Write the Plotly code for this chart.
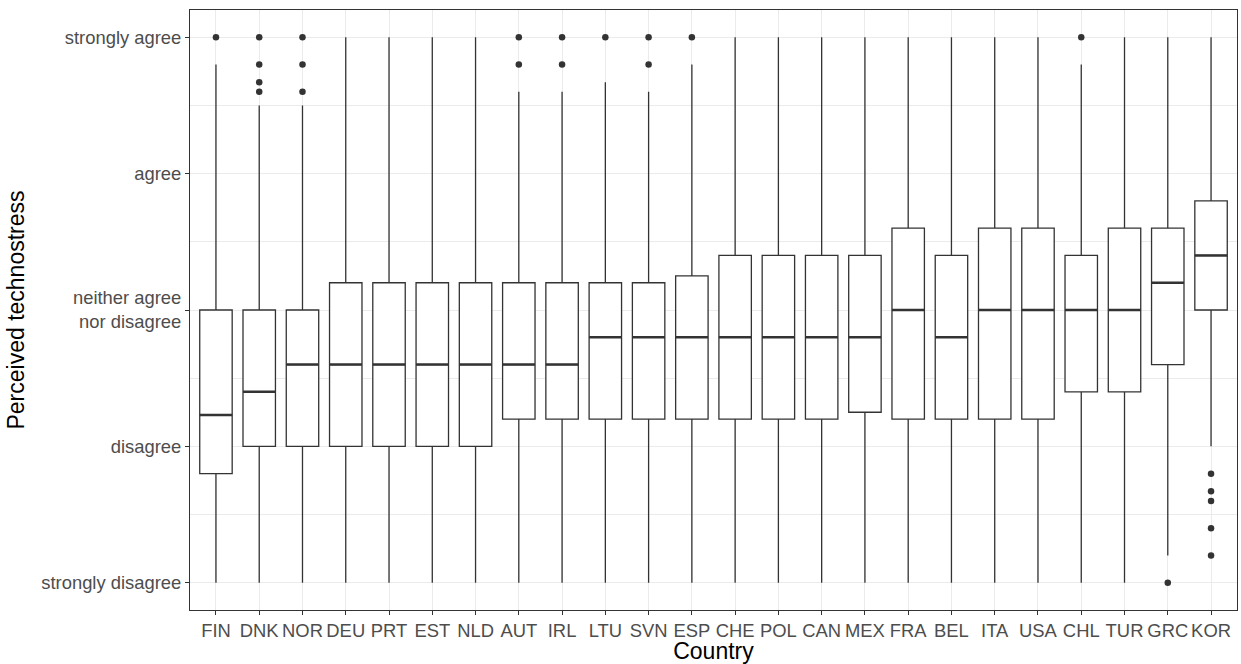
import plotly.graph_objects as go

countries = ["FIN", "DNK", "NOR", "DEU", "PRT", "EST", "NLD", "AUT", "IRL", "LTU", "SVN", "ESP",
             "CHE", "POL", "CAN", "MEX", "FRA", "BEL", "ITA", "USA", "CHL", "TUR", "GRC", "KOR"]
q1 = [1.8, 2.0, 2.0, 2.0, 2.0, 2.0, 2.0, 2.2, 2.2, 2.2, 2.2, 2.2,
      2.2, 2.2, 2.2, 2.25, 2.2, 2.2, 2.2, 2.2, 2.4, 2.4, 2.6, 3.0]
median = [2.23, 2.4, 2.6, 2.6, 2.6, 2.6, 2.6, 2.6, 2.6, 2.8, 2.8, 2.8,
          2.8, 2.8, 2.8, 2.8, 3.0, 2.8, 3.0, 3.0, 3.0, 3.0, 3.2, 3.4]
q3 = [3.0, 3.0, 3.0, 3.2, 3.2, 3.2, 3.2, 3.2, 3.2, 3.2, 3.2, 3.25,
      3.4, 3.4, 3.4, 3.4, 3.6, 3.4, 3.6, 3.6, 3.4, 3.6, 3.6, 3.8]
lower_whisker = [1.0, 1.0, 1.0, 1.0, 1.0, 1.0, 1.0, 1.0, 1.0, 1.0, 1.0, 1.0,
                 1.0, 1.0, 1.0, 1.0, 1.0, 1.0, 1.0, 1.0, 1.0, 1.0, 1.2, 2.0]
upper_whisker = [4.8, 4.5, 4.5, 5.0, 5.0, 5.0, 5.0, 4.6, 4.6, 4.67, 4.6, 4.8,
                 5.0, 5.0, 5.0, 5.0, 5.0, 5.0, 5.0, 5.0, 4.8, 5.0, 5.0, 5.0]
outliers = {
    "FIN": [5.0],
    "DNK": [5.0, 4.8, 4.67, 4.6],
    "NOR": [5.0, 4.8, 4.6],
    "AUT": [5.0, 4.8],
    "IRL": [5.0, 4.8],
    "LTU": [5.0],
    "SVN": [5.0, 4.8],
    "ESP": [5.0],
    "CHL": [5.0],
    "GRC": [1.0],
    "KOR": [1.8, 1.67, 1.6, 1.4, 1.2],
}
y_tick_vals = [1, 2, 3, 4, 5]
y_tick_text = ["strongly disagree", "disagree", "neither agree<br>nor disagree", "agree", "strongly agree"]

box_w = 0.75
line_col = "#333333"
pos = list(range(len(countries)))

fig = go.Figure()
fig.add_trace(go.Box(
    x=pos, q1=q1, median=median, q3=q3,
    lowerfence=lower_whisker, upperfence=upper_whisker,
    width=box_w, whiskerwidth=0, fillcolor="white",
    line=dict(color=line_col, width=1.3), boxpoints=False, showlegend=False,
))

# thicker median lines
mx, my = [], []
for i, m in zip(pos, median):
    mx += [i - box_w / 2, i + box_w / 2, None]
    my += [m, m, None]
fig.add_trace(go.Scatter(x=mx, y=my, mode="lines", line=dict(color=line_col, width=2.6),
                         showlegend=False, hoverinfo="skip"))

# outliers
ox, oy = [], []
for c, vals in outliers.items():
    i = countries.index(c)
    ox += [i] * len(vals)
    oy += vals
fig.add_trace(go.Scatter(x=ox, y=oy, mode="markers",
                         marker=dict(color=line_col, size=6.5, line=dict(width=0)),
                         showlegend=False))

grid = "#EBEBEB"
fig.update_layout(
    width=1241, height=664,
    margin=dict(l=190, r=3, t=10, b=52),
    paper_bgcolor="white", plot_bgcolor="white",
    font=dict(family="Liberation Sans, Arial, sans-serif", color="#4D4D4D", size=18),
    showlegend=False,
)
fig.update_xaxes(
    range=[-0.6, len(countries) - 0.4],
    tickmode="array", tickvals=pos, ticktext=countries,
    showgrid=True, gridcolor=grid, gridwidth=1, zeroline=False,
    ticks="outside", ticklen=4, tickcolor=line_col, tickwidth=1,
    showline=True, linecolor=line_col, linewidth=1, mirror=True,
    tickfont=dict(size=18.4, color="#4D4D4D"),
    title=dict(text="Country", font=dict(size=23, color="black"), standoff=4),
)
fig.update_yaxes(
    range=[0.8, 5.2],
    tickmode="array", tickvals=y_tick_vals, ticktext=y_tick_text,
    showgrid=True, gridcolor=grid, gridwidth=1, zeroline=False,
    minor=dict(tickmode="array", tickvals=[1.5, 2.5, 3.5, 4.5], showgrid=True,
               gridcolor=grid, gridwidth=0.6, ticks=""),
    ticks="outside", ticklen=4, tickcolor=line_col, tickwidth=1,
    showline=True, linecolor=line_col, linewidth=1, mirror=True,
    tickfont=dict(size=18.4, color="#4D4D4D"),
    title=dict(text="Perceived technostress", font=dict(size=23, color="black"), standoff=10),
)

fig.write_html("out.html", config={"displayModeBar": False},
               post_script="document.body.style.margin='0px';document.body.style.overflow='hidden';")
